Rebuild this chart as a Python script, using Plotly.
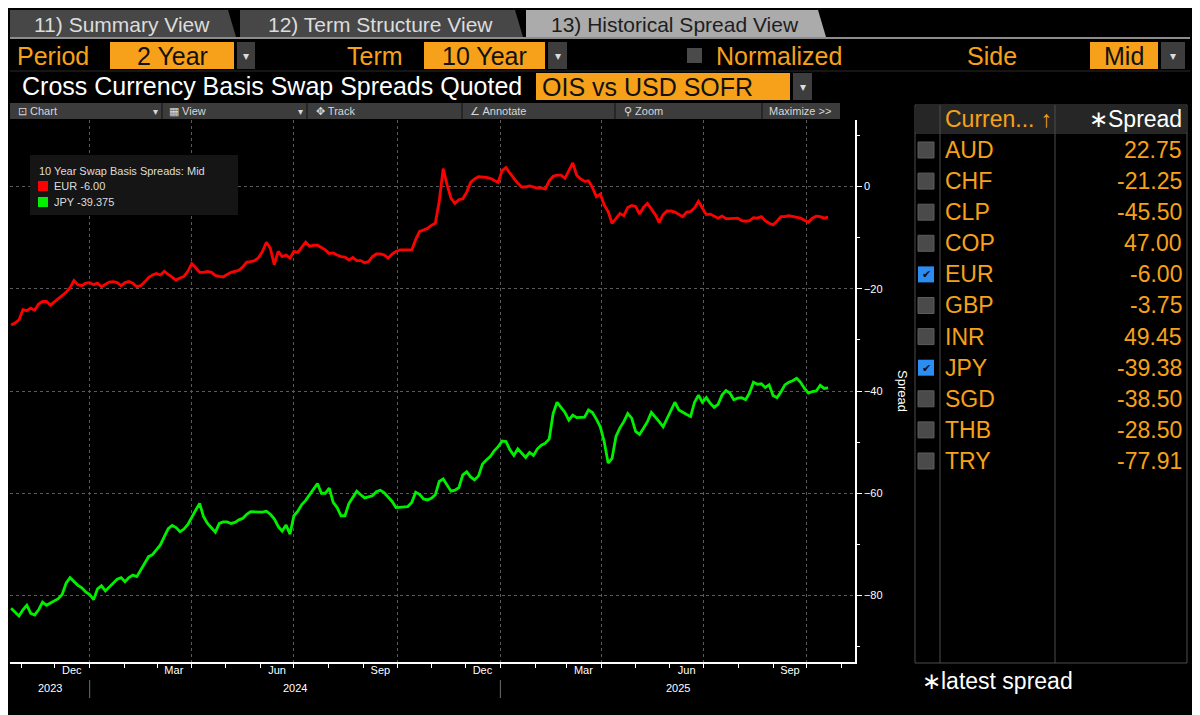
## Bloomberg-style cross currency basis chart, rebuilt with plotly
import pandas as pd
import plotly.graph_objects as go

# page has an 8px body margin, so the figure is drawn 8px smaller and offset
W, H = 1200, 715
OX, OY = 8, 8
FW, FH = W - OX, H - OY
FONT = "Liberation Sans, Arial, sans-serif"
ORANGE = "#f7a11a"

# 10y xccy basis swap spreads, OIS vs USD SOFR (bp), read twice a week
start_date = "2023-10-23"
step = "84h"
eur = [-27.1, -26.7, -26.1, -24.1, -24.3, -23.8, -24.2, -23.0, -22.5, -22.5,
       -23.2, -22.6, -21.9, -21.3, -20.7, -19.8, -18.4, -19.2, -19.4, -18.9,
       -18.8, -19.2, -18.9, -19.6, -19.2, -18.7, -18.6, -18.8, -19.4, -18.8,
       -18.6, -18.9, -19.6, -19.4, -18.7, -17.8, -17.3, -17.0, -17.3, -16.6,
       -17.2, -17.8, -18.3, -17.9, -17.6, -16.6, -15.1, -15.9, -16.8, -16.8,
       -16.6, -16.8, -17.4, -17.6, -17.7, -17.2, -16.8, -16.6, -16.4, -15.7,
       -14.8, -14.7, -14.5, -13.9, -12.7, -10.9, -12.1, -15.3, -12.7, -13.7,
       -13.4, -14.0, -12.7, -12.9, -11.9, -10.9, -11.7, -11.5, -11.5, -11.9,
       -12.4, -13.1, -13.0, -13.4, -13.7, -13.8, -14.4, -13.9, -14.5, -14.5,
       -14.9, -14.7, -13.7, -13.2, -13.2, -13.4, -14.0, -13.2, -12.7, -12.4,
       -12.4, -12.3, -12.4, -10.4, -8.8, -8.5, -8.2, -7.6, -7.2, -2.9,
       3.5, 0.3, -2.3, -3.3, -2.6, -2.4, -1.1, 0.8, 1.5, 1.9,
       1.9, 1.8, 1.6, 1.2, 0.8, 3.1, 3.7, 2.6, 1.5, 0.6,
       -0.1, -0.1, 0.1, -0.1, -0.3, -0.3, -0.5, 1.1, 2.0, 2.2,
       2.2, 1.6, 3.1, 4.6, 2.2, 1.5, 1.0, 1.1, -0.2, -2.0,
       -1.5, -3.6, -4.9, -7.2, -6.3, -5.3, -5.7, -4.1, -3.7, -3.9,
       -5.4, -4.1, -3.3, -4.4, -5.5, -7.0, -5.5, -4.8, -4.8, -5.0,
       -5.5, -5.9, -5.0, -4.9, -4.2, -2.9, -4.2, -5.5, -5.4, -5.8,
       -6.2, -5.8, -6.3, -6.3, -6.2, -6.2, -6.7, -6.8, -6.7, -6.1,
       -6.2, -5.9, -6.7, -7.2, -7.5, -6.8, -5.9, -5.9, -5.7, -5.9,
       -6.1, -6.2, -6.6, -7.0, -6.2, -5.8, -5.9, -6.2, -6.00]
jpy = [-82.5, -83.3, -84.0, -82.8, -81.9, -83.5, -83.8, -82.8, -81.3, -81.9,
       -81.5, -81.1, -80.6, -79.8, -77.6, -76.5, -77.3, -78.0, -78.5, -79.3,
       -79.8, -80.8, -78.7, -78.1, -79.1, -78.3, -77.4, -76.8, -76.5, -77.3,
       -76.5, -76.0, -76.3, -75.0, -73.7, -72.4, -72.0, -71.1, -70.1, -68.5,
       -66.9, -66.3, -66.7, -67.5, -67.0, -66.1, -64.6, -63.3, -62.0, -64.6,
       -65.9, -66.7, -67.6, -65.9, -65.6, -65.6, -65.9, -65.7, -65.2, -64.9,
       -64.1, -63.6, -63.6, -63.6, -63.7, -63.5, -64.1, -65.0, -66.5, -67.4,
       -66.2, -68.0, -64.4, -63.5, -62.2, -61.4, -60.2, -59.2, -58.1, -60.0,
       -60.0, -59.0, -61.8, -62.8, -64.4, -64.4, -62.0, -60.7, -59.6, -60.3,
       -60.9, -60.7, -60.5, -59.7, -59.4, -59.9, -60.7, -61.6, -62.8, -62.7,
       -62.6, -62.6, -61.8, -59.8, -60.2, -61.1, -61.3, -61.0, -60.3, -57.7,
       -57.2, -58.5, -59.6, -59.4, -58.9, -56.4, -55.8, -56.8, -57.4, -56.6,
       -54.3, -53.5, -52.8, -51.7, -50.9, -49.8, -49.9, -51.5, -52.6, -51.3,
       -52.2, -53.0, -52.0, -52.6, -51.3, -50.6, -50.2, -49.4, -44.4, -42.2,
       -43.2, -44.2, -45.7, -44.7, -45.2, -45.2, -45.1, -43.7, -44.2, -45.5,
       -47.0, -49.9, -54.1, -53.2, -48.9, -47.2, -46.0, -44.4, -45.3, -47.9,
       -48.5, -47.3, -46.0, -44.2, -45.0, -46.0, -47.0, -45.5, -43.7, -42.2,
       -43.7, -44.2, -44.6, -45.0, -42.2, -40.8, -42.2, -41.3, -42.4, -43.2,
       -42.6, -40.8, -39.9, -40.4, -41.7, -41.4, -41.3, -41.7, -40.4, -38.3,
       -38.7, -38.6, -39.3, -38.8, -40.9, -41.3, -40.2, -38.8, -38.3, -38.0,
       -37.5, -38.3, -39.5, -40.4, -40.1, -40.0, -38.9, -39.5, -39.375]

currencies = ["AUD", "CHF", "CLP", "COP", "EUR", "GBP", "INR", "JPY", "SGD", "THB", "TRY"]
latest = [22.75, -21.25, -45.50, 47.00, -6.00, -3.75, 49.45, -39.38, -38.50, -28.50, -77.91]
selected = ["EUR", "JPY"]

month_starts = ["2023-12-01", "2024-03-01", "2024-06-01", "2024-09-01",
                "2024-12-01", "2025-03-01", "2025-06-01", "2025-09-01"]
month_labels = ["Dec", "Mar", "Jun", "Sep", "Dec", "Mar", "Jun", "Sep"]
years = ["2023", "2024", "2025"]
x_range = ["2023-10-22", "2025-11-13"]
y_range = [-93, 13]

dates = pd.date_range(start_date, periods=len(eur), freq=step)


def px(x):
    return (x - OX) / FW


def py(y):
    return 1 - (y - OY) / FH


shapes = []
annos = []


def box(x0, y0, x1, y1, fill, line=None):
    shapes.append(dict(type="rect", xref="paper", yref="paper",
                       x0=px(x0), x1=px(x1), y0=py(y1), y1=py(y0),
                       fillcolor=fill, line=dict(color=line or fill, width=1 if line else 0)))


def hline(x0, x1, y, color, width=1):
    shapes.append(dict(type="line", xref="paper", yref="paper", x0=px(x0), x1=px(x1),
                       y0=py(y), y1=py(y), line=dict(color=color, width=width)))


def vline(x, y0, y1, color, width=1):
    shapes.append(dict(type="line", xref="paper", yref="paper", x0=px(x), x1=px(x),
                       y0=py(y0), y1=py(y1), line=dict(color=color, width=width)))


def text(x, y, s, size, color, anchor="left", family=FONT, **kw):
    annos.append(dict(x=px(x), y=py(y), xref="paper", yref="paper", text=s, showarrow=False,
                      xanchor=anchor, yanchor="middle",
                      font=dict(size=size, color=color, family=family), **kw))


def tab(x0, x1, label, fill, color):
    path = (f"M {px(x0)},{py(37)} L {px(x0)},{py(10)} L {px(x1)},{py(10)} "
            f"L {px(x1 + 8)},{py(37)} Z")
    shapes.append(dict(type="path", xref="paper", yref="paper", path=path,
                       fillcolor=fill, line=dict(width=0)))
    text((x0 + x1) / 2 + 3, 24, label, 21, color, anchor="center")


def dropdown(x0, x1, y0, y1):
    box(x0, y0, x1, y1, "#3d3d3d")
    text((x0 + x1) / 2, (y0 + y1) / 2, "▾", 12, "#dddddd", anchor="center")


# tabs
tab(10, 228, "11) Summary View", "#474747", "#dcdcdc")
tab(240, 515, "12) Term Structure View", "#474747", "#dcdcdc")
tab(526, 818, "13) Historical Spread View", "#ababab", "#1e1e1e")
hline(10, 1190, 38, "#8c8c8c", 2)

# controls row
text(15, 56, "Period", 25, ORANGE)
box(110, 42, 234, 69, ORANGE)
text(172, 56, "2 Year", 25, "#111111", anchor="center")
dropdown(237, 255, 42, 69)
text(345, 56, "Term", 25, ORANGE)
box(424, 42, 545, 69, ORANGE)
text(484, 56, "10 Year", 25, "#111111", anchor="center")
dropdown(548, 567, 42, 69)
box(687, 48, 702, 63, "#4a4a4a")
text(714, 56, "Normalized", 25, ORANGE)
text(965, 56, "Side", 25, ORANGE)
box(1090, 42, 1158, 69, ORANGE)
text(1124, 56, "Mid", 25, "#111111", anchor="center")
dropdown(1161, 1185, 42, 69)
hline(10, 1190, 71, "#2a2a2a")

text(20, 86, "Cross Currency Basis Swap Spreads Quoted", 25, "#ffffff")
box(536, 73, 790, 100, ORANGE)
text(540, 87, "OIS vs USD SOFR", 25, "#111111")
dropdown(793, 812, 73, 100)

# chart toolbar
box(10, 103, 840, 119, "#3c3c3c")
for sx in [162, 307, 462, 615, 762]:
    vline(sx, 103, 119, "#262626", 2)
tools = [(16, "⊡ Chart"), (167, "▦ View"), (314, "✥ Track"), (468, "∠ Annotate"),
         (622, "⚲ Zoom"), (767, "Maximize >>")]
for tx, lab in tools:
    text(tx, 111, lab, 11, "#d8d8d8")
for tx in [155, 300]:
    text(tx, 111, "▾", 10, "#d8d8d8", anchor="center")

# legend box inside the plot
box(30, 155, 238, 215, "#151515")
text(37, 171, "10 Year Swap Basis Spreads: Mid", 11, "#dddddd")
box(38, 181, 48, 191, "#ff0000")
text(52, 186, f"EUR {eur[-1]:.2f}", 11, "#dddddd")
box(38, 197, 48, 207, "#00f000")
text(52, 202, f"JPY {jpy[-1]:.3f}", 11, "#dddddd")

# y axis title, reads top to bottom
text(903, 391, "Spread", 13, "#ffffff", anchor="center", textangle=90)

# year row under the x axis
rs, re = pd.Timestamp(x_range[0]), pd.Timestamp(x_range[1])
for yr in years:
    y0 = max(pd.Timestamp(f"{yr}-01-01"), rs)
    y1 = min(pd.Timestamp(f"{int(yr) + 1}-01-01"), re)
    annos.append(dict(x=y0 + (y1 - y0) / 2, y=py(688), xref="x", yref="paper", text=yr,
                      showarrow=False, yanchor="middle",
                      font=dict(size=11, color="#ffffff", family=FONT)))
    if pd.Timestamp(f"{yr}-01-01") > rs:
        shapes.append(dict(type="line", xref="x", yref="paper", x0=f"{yr}-01-01", x1=f"{yr}-01-01",
                           y0=py(680), y1=py(698), line=dict(color="#6e6e6e", width=1)))

# currency table
box(915, 105, 1187, 663, "#000000", "#4d4d4d")
box(916, 106, 1186, 132, "#262626")
vline(940, 105, 663, "#4d4d4d")
vline(1055, 105, 663, "#4d4d4d")
hline(915, 1187, 133, "#4d4d4d")
text(943, 119, "Curren... ↑", 23, ORANGE)
text(1184, 119, "∗Spread", 23, "#ffffff", anchor="right")
for i, (cur, val) in enumerate(zip(currencies, latest)):
    ry = 150 + 31.1 * i
    if cur in selected:
        box(918, ry - 8, 934, ry + 8, "#2b8cf2")
        text(926, ry, "✔", 11, "#111111", anchor="center")
    else:
        box(918, ry - 8, 934, ry + 8, "#4a4a4a", "#5c5c5c")
    text(943, ry, cur, 23, ORANGE)
    text(1184, ry, f"{val:.2f}", 23, ORANGE, anchor="right")
text(920, 681, "∗latest spread", 23, "#ffffff")

fig = go.Figure()
fig.add_trace(go.Scatter(x=dates, y=eur, mode="lines", name="EUR",
                         line=dict(color="#ff0000", width=2.8)))
fig.add_trace(go.Scatter(x=dates, y=jpy, mode="lines", name="JPY", xaxis="x2",
                         line=dict(color="#00f000", width=2.8)))

grid = dict(showgrid=True, gridcolor="#5a5a5a", griddash="dot", gridwidth=1)
fig.update_layout(
    width=FW, height=FH,
    margin=dict(l=0, r=0, t=0, b=0),
    paper_bgcolor="#000000", plot_bgcolor="#000000",
    showlegend=False,
    font=dict(family=FONT, color="#ffffff", size=11),
    xaxis=dict(type="date", range=x_range, domain=[px(10), px(855)],
               showline=True, linecolor="#ffffff", linewidth=1.5,
               tick0="2024-01-01", dtick="M3", ticks="outside", ticklen=4,
               tickcolor="#ffffff", showticklabels=False, zeroline=False,
               minor=dict(dtick="M1", ticks="outside", ticklen=4, tickcolor="#ffffff",
                          showgrid=False),
               **grid),
    xaxis2=dict(type="date", range=x_range, domain=[px(10), px(855)],
                overlaying="x", anchor="y", side="bottom",
                tickvals=[pd.Timestamp(m) + pd.Timedelta(days=15) for m in month_starts],
                ticktext=month_labels, ticks="", showgrid=False, showline=False,
                zeroline=False, tickfont=dict(size=11, color="#ffffff")),
    yaxis=dict(range=y_range, domain=[py(662), py(120)], side="right", anchor="x",
               tick0=0, dtick=20, showline=True, linecolor="#ffffff", linewidth=1.5,
               ticks="outside", ticklen=5, tickcolor="#ffffff", zeroline=False,
               tickfont=dict(size=11, color="#ffffff"),
               minor=dict(dtick=10, ticks="outside", ticklen=3, tickcolor="#ffffff",
                          showgrid=False),
               **grid),
    shapes=shapes,
    annotations=annos,
)

fig.write_html("out.html")
